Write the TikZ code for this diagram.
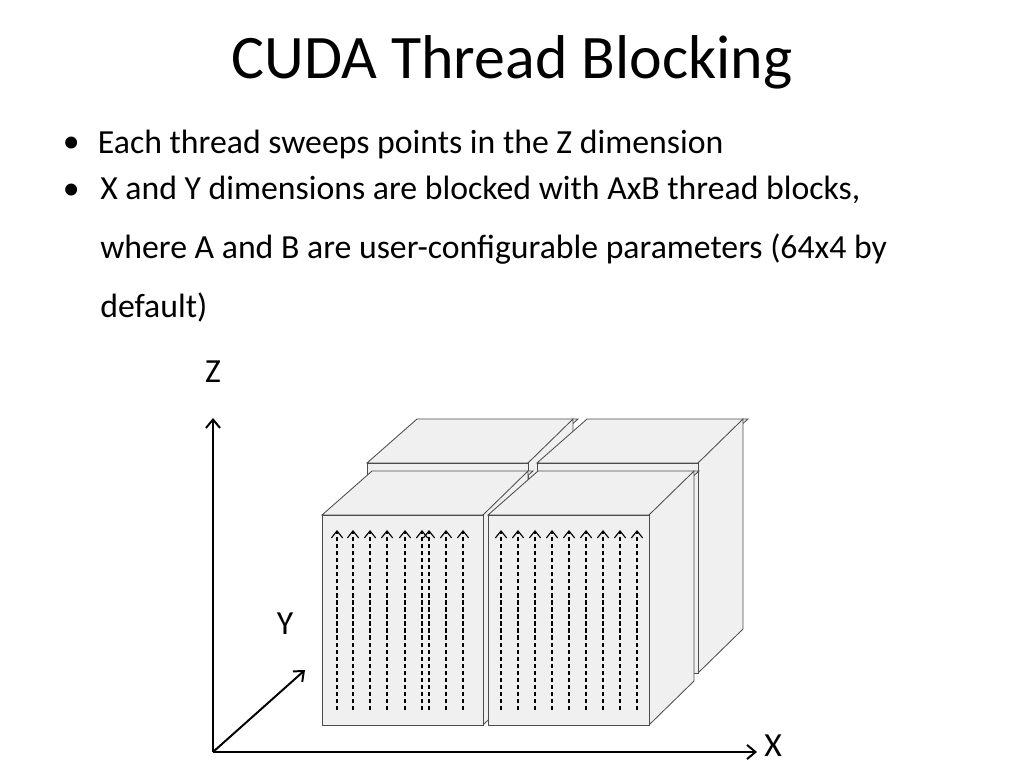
\documentclass[tikz,border=0pt]{standalone}
\usepackage{fontspec}
\setmainfont{Carlito}
\usetikzlibrary{arrows.meta}

\tikzset{
  face/.style={draw=black!70, fill=black!6, line width=0.6pt},
  sweep/.style={densely dashed, thick, -{Straight Barb[length=5pt,width=8pt]}},
  axis/.style={line width=1.4pt, -{Straight Barb[length=6pt,width=10pt]}},
  body/.style={font=\fontsize{24}{30}\selectfont}
}
% one thread block: front face at (#1,#2), 161 wide, 210 high
\newcommand{\cudablock}[2]{%
  \draw[face] (#1,#2) -- ++(50,-44) -- ++(161,0) -- ++(-50,44) -- cycle;
  \draw[face] (#1+161,#2) -- ++(45,-44) -- ++(0,210) -- ++(-45,44) -- cycle;
  \draw[face] (#1,#2) rectangle ++(161,210);
}

\begin{document}
\begin{tikzpicture}[x=0.025cm, y=-0.025cm]
	\useasboundingbox (0,0) rectangle (1024,768);
	
	\node (title) at (512,62) {\fontsize{44}{52}\selectfont CUDA Thread Blocking};
	\node[body, anchor=west] (b1) at (58,145) {\textbullet};
	\node[body, anchor=west] (t1) at (93,145) {Each thread sweeps points in the Z dimension};
	\node[body, anchor=west] (b2) at (58,192) {\textbullet};
	\node[anchor=north west, align=left, inner sep=0pt,
	      font=\fontsize{24}{42}\selectfont] (t2) at (100,176)
	  {X and Y dimensions are blocked with AxB thread blocks,\\
	   where A and B are user-configurable parameters (64x4 by\\ default)};
	
	% axes
	\coordinate (o) at (213,752);
	\coordinate (zend) at (213,418);
	\coordinate (xend) at (757,752);
	\coordinate (yend) at (305,670);
	\draw[axis] (o) -- (zend);
	\draw[axis] (o) -- (xend);
	\draw[axis] (o) -- (yend);
	\node[body] (zlab) at (213,372) {Z};
	\node[body] (ylab) at (285,624) {Y};
	\node[body] (xlab) at (773,746) {X};
	
	% blocks, back row first
	\cudablock{367}{463}
	\cudablock{537}{463}
	\cudablock{322}{515}
	\cudablock{488}{515}
	
	% threads
	\foreach \x in {337,353,370,387,405,422,429,446,463}
	  \draw[sweep] (\x,710) -- (\x,530);
	\foreach \x in {501,518,535,552,569,586,603,620,637}
	  \draw[sweep] (\x,710) -- (\x,530);
	
\end{tikzpicture}
\end{document}
